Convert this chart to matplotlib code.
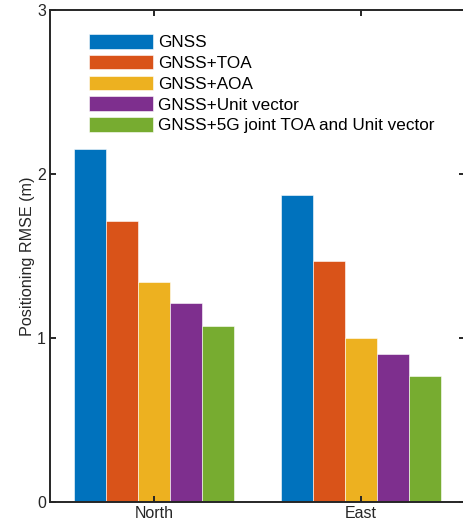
import matplotlib
matplotlib.use("Agg")
import matplotlib.pyplot as plt
import numpy as np

categories = ["North", "East"]
series_names = ["GNSS", "GNSS+TOA", "GNSS+AOA", "GNSS+Unit vector",
                "GNSS+5G joint TOA and Unit vector"]
north = [2.15, 1.71, 1.34, 1.21, 1.07]
east = [1.87, 1.47, 1.00, 0.90, 0.77]
colors = ["#0072BD", "#D95319", "#EDB120", "#7E2F8E", "#77AC30"]
ytick_vals = [0, 1, 2, 3]

plt.rcParams['font.family'] = ['Liberation Sans', 'DejaVu Sans']

fig = plt.figure(figsize=(4.63, 5.25), dpi=100)
W, H = 463, 525
left, right, top, bottom = 50, 465, 9.5, 502
ax = fig.add_axes([left / W, (H - bottom) / H, (right - left) / W, (bottom - top) / H])

x = np.arange(1, len(categories) + 1)
n = len(series_names)
group_w = n / (n + 1.5)
bw = group_w / n
data = np.array([north, east]).T
for i in range(n):
    offs = -group_w / 2 + bw * (i + 0.5)
    ax.bar(x + offs, data[i], width=bw, color=colors[i], label=series_names[i],
           edgecolor="#ffffff", linewidth=0.4)

ax.set_xlim(0.5, 2.5)
ax.set_ylim(0, 3)
ax.set_xticks(x)
ax.set_xticklabels(categories)
ax.set_yticks(ytick_vals)
ax.set_yticklabels([str(v) for v in ytick_vals])
ax.set_ylabel("Positioning RMSE (m)", fontsize=11.6, color="#262626", labelpad=1.5)

axcol = "#262626"
for s in ax.spines.values():
    s.set_color(axcol)
    s.set_linewidth(1.4)
ax.tick_params(direction="in", top=True, right=True, length=4, width=1.4,
               colors=axcol, labelsize=11.5, pad=3)

leg = ax.legend(loc="upper left", bbox_to_anchor=(0.077, 0.964), frameon=False,
                fontsize=12.3, handlelength=3.75, handleheight=0.94,
                labelspacing=0.27, handletextpad=0.3, borderaxespad=0)
for t in leg.get_texts():
    t.set_color("#000000")

fig.savefig("out.png", dpi=100)
